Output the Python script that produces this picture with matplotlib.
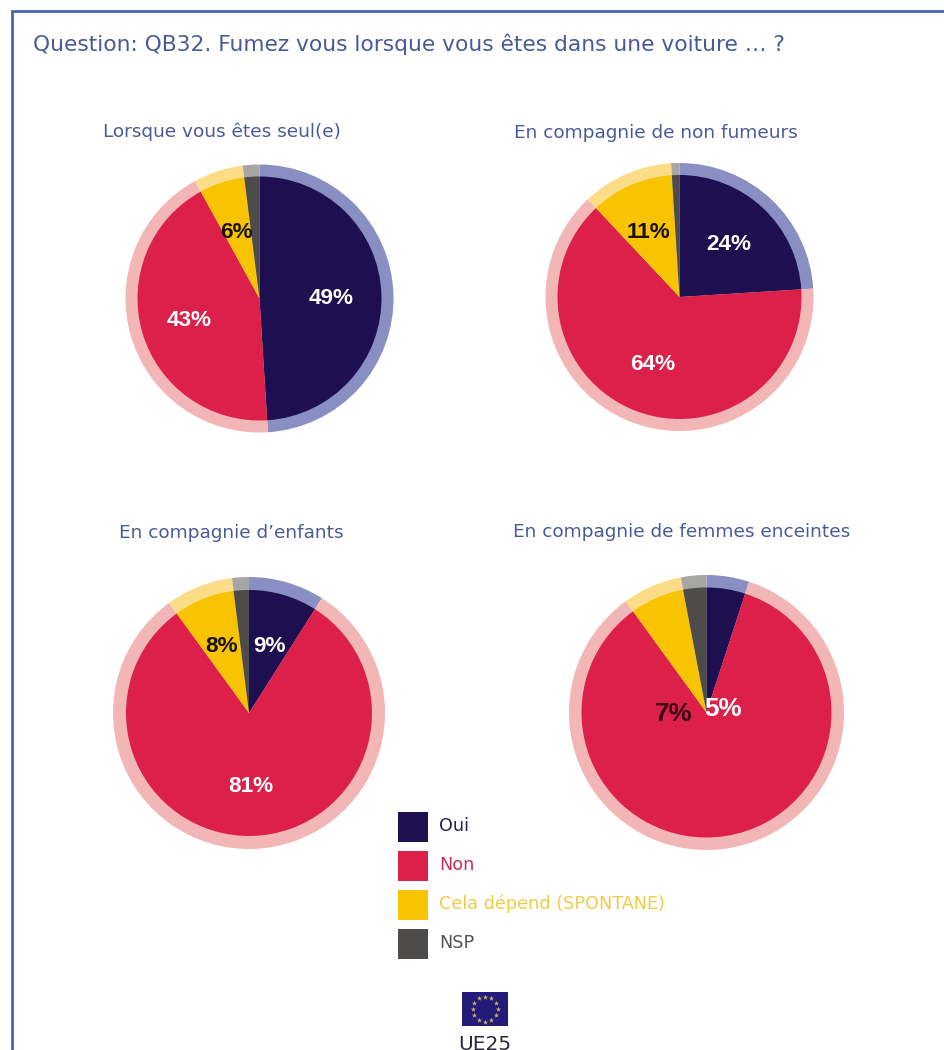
import matplotlib
matplotlib.use("Agg")
import matplotlib.pyplot as plt
from matplotlib.patches import Rectangle
import numpy as np

W, H = 945, 1050

categories = ["Oui", "Non", "Cela dépend (SPONTANE)", "NSP"]
seul = [49, 43, 6, 2]
non_fumeurs = [24, 64, 11, 1]
enfants = [9, 81, 8, 2]
enceintes = [5, 85, 7, 3]

titres = ["Lorsque vous êtes seul(e)", "En compagnie de non fumeurs",
          "En compagnie d’enfants", "En compagnie de femmes enceintes"]
question = "Question: QB32. Fumez vous lorsque vous êtes dans une voiture … ?"

couleurs = ["#1e1050", "#dc2049", "#f8c300", "#4e4c4b"]
couleurs_clair = ["#8a8fc3", "#f2b6b6", "#fbdc87", "#a6a6a4"]
couleurs_txt = ["#2a2060", "#c8305c", "#efcb4a", "#555555"]
bleu_txt = "#4a5a96"

# cx, cy, rayon ext, rayon int (pixels)
pies = [(259.5, 298.5, 134, 122), (679.5, 297, 134, 122),
        (249, 713, 136, 123), (706.5, 712.5, 137.5, 125)]
valeurs = [seul, non_fumeurs, enfants, enceintes]

# texte, x, y, couleur, taille
etiquettes = [("49%", 331, 298, "white", 22.5), ("43%", 189, 321, "white", 22.5), ("6%", 236, 232, "#1a1208", 22.5),
              ("24%", 729, 245, "white", 22.5), ("64%", 653, 365, "white", 22.5), ("11%", 649, 232, "#1a1208", 22.5),
              ("9%", 269, 646, "white", 22.5), ("81%", 251, 787, "white", 22.5), ("8%", 222, 647, "#1a1208", 22.5),
              ("5%", 723, 709, "white", 26), ("7%", 674, 714, "#3a0a14", 26)]

fig = plt.figure(figsize=(W / 100, H / 100), dpi=100, facecolor="white")

for (cx, cy, r_ext, r_int), vals in zip(pies, valeurs):
    ax = fig.add_axes([(cx - r_ext) / W, 1 - (cy + r_ext) / H, 2 * r_ext / W, 2 * r_ext / H])
    ax.pie(vals, colors=couleurs_clair, startangle=90, counterclock=False, radius=1)
    ax.pie(vals, colors=couleurs, startangle=90, counterclock=False, radius=r_int / r_ext)
    ax.set_xlim(-1, 1)
    ax.set_ylim(-1, 1)
    ax.patch.set_visible(False)

texte = fig.add_axes([0, 0, 1, 1])
texte.set_xlim(0, W)
texte.set_ylim(H, 0)
texte.axis("off")
texte.patch.set_visible(False)

# cadre
texte.plot([12, 12, W], [H, 11, 11], color="#4c63ad", lw=2, solid_joinstyle="miter")

texte.text(33, 44, question, fontsize=15.65, color=bleu_txt, va="center", family="DejaVu Sans")
pos_titres = [(222, 132), (656, 133), (231, 533), (682, 532)]
for t, (x, y) in zip(titres, pos_titres):
    texte.text(x, y, t, fontsize=13.3, color=bleu_txt, ha="center", va="center", family="DejaVu Sans")

for t, x, y, c, s in etiquettes:
    texte.text(x, y, t, fontsize=s * 0.72, color=c, ha="center", va="center",
               fontweight="bold", family="Liberation Sans")

# legende
for i, (nom, c, c_txt) in enumerate(zip(categories, couleurs, couleurs_txt)):
    y = 812 + i * 39
    texte.add_patch(Rectangle((398, y), 30, 30, facecolor=c, edgecolor="none"))
    texte.text(439, y + 14, nom, fontsize=12.7, color=c_txt, va="center", family="DejaVu Sans")

# drapeau UE
texte.add_patch(Rectangle((462, 992), 46, 34, facecolor="#241a78", edgecolor="none"))
ang = np.arange(12) * np.pi / 6
texte.scatter(485 + 12.5 * np.cos(ang), 1009 + 12.5 * np.sin(ang), marker="*", s=16, color="#c9b45a", linewidths=0)
texte.text(485, 1044, "UE25", fontsize=14.5, color="#2a2a3a", ha="center", va="center", family="DejaVu Sans")

fig.savefig("out.png", dpi=100)
